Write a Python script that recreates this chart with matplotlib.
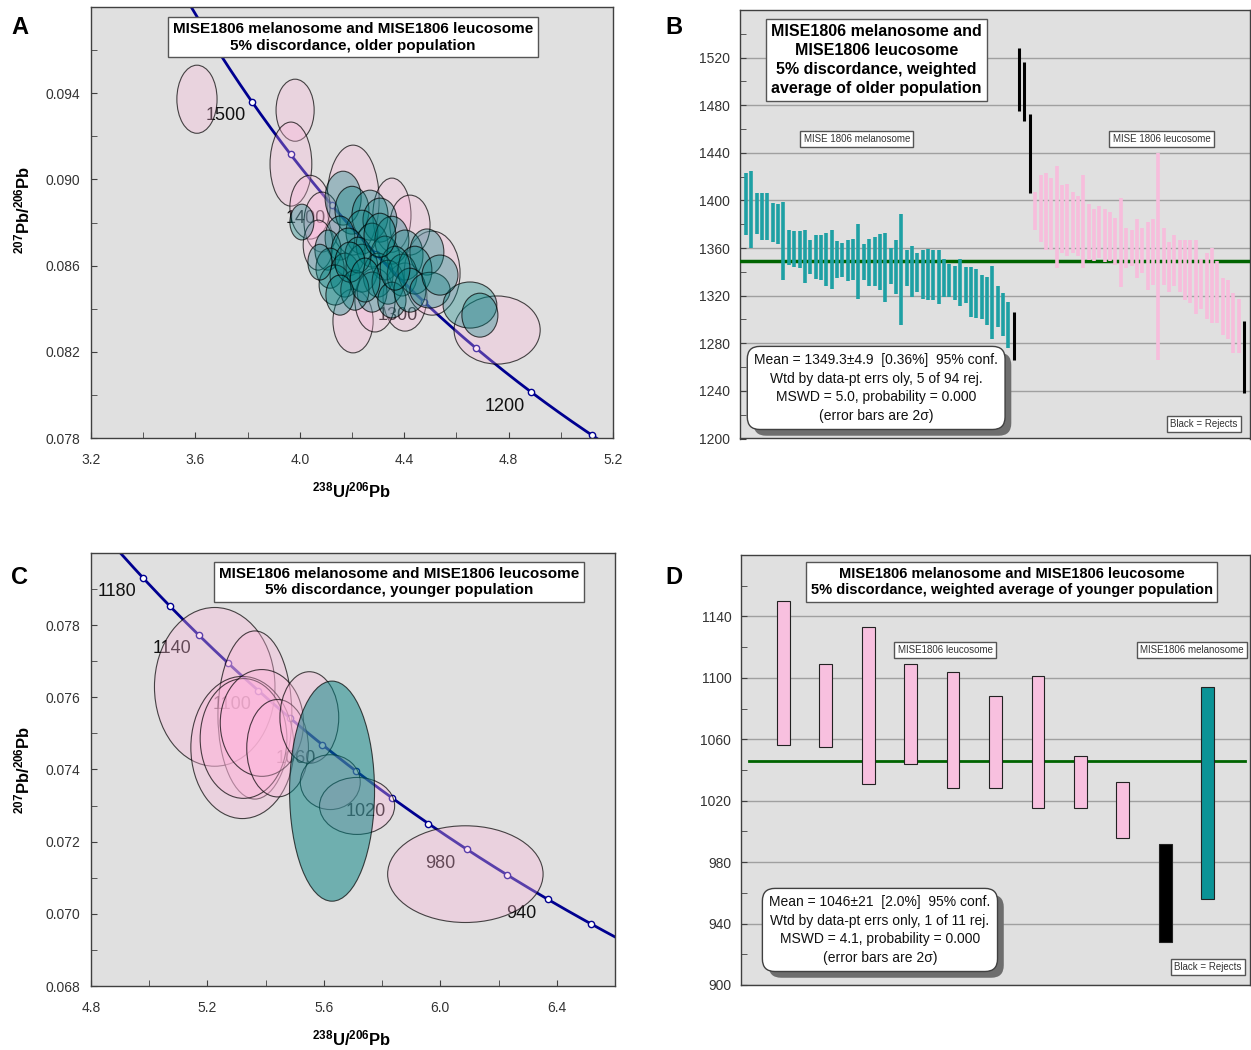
import numpy as np
import matplotlib
matplotlib.use('Agg')
import matplotlib.pyplot as plt
from matplotlib import patheffects
from matplotlib.patches import Ellipse
from matplotlib.ticker import MultipleLocator

# global plotting options
plt.rcParams['font.family'] = 'Liberation Sans'
plt.rcParams['mathtext.fontset'] = 'custom'
plt.rcParams['mathtext.rm'] = 'Liberation Sans'
plt.rcParams['mathtext.bf'] = 'Liberation Sans:bold'
plt.rcParams['mathtext.it'] = 'Liberation Sans:italic'

# decay constants (1/yr) and 238U/235U
L238 = 1.55125e-10
L235 = 9.8485e-10
U_RATIO = 137.88

# colours
BG = '#e0e0e0'
TEAL_BAR = '#1ea0a4'
PINK_BAR = '#f7bddc'
TEAL_BOX = '#0b9396'
PINK_BOX = '#f8c0df'
NAVY = '#000090'
MEAN_GREEN = '#006400'

# %% data: older population ellipses (2 sigma half-axes)
old_mel_x = [4.008, 4.166, 4.200, 4.269, 4.307, 4.238, 4.154, 4.108, 4.185,
             4.277, 4.353, 4.326, 4.403, 4.487, 4.116, 4.173, 4.135, 4.238,
             4.300, 4.277, 4.338, 4.392, 4.441, 4.353, 4.422, 4.499, 4.211,
             4.077, 4.652, 4.690, 4.537, 4.223, 4.192, 4.250, 4.365, 4.154,
             4.307]
old_mel_y = [0.08802, 0.08913, 0.08857, 0.08834, 0.08811, 0.08755, 0.08728,
             0.08672, 0.08663, 0.08695, 0.08718, 0.08635, 0.08649, 0.08663,
             0.08588, 0.08556, 0.08510, 0.08588, 0.08556, 0.08477, 0.08523,
             0.08556, 0.08579, 0.08440, 0.08486, 0.08486, 0.08486, 0.08616,
             0.08417, 0.08370, 0.08556, 0.08649, 0.08616, 0.08533, 0.08588,
             0.08463, 0.08741]
old_mel_sx = [0.046, 0.069, 0.065, 0.069, 0.065, 0.061, 0.057, 0.050, 0.065,
              0.061, 0.065, 0.057, 0.069, 0.065, 0.054, 0.057, 0.061, 0.061,
              0.057, 0.057, 0.061, 0.057, 0.065, 0.054, 0.061, 0.077, 0.054,
              0.046, 0.103, 0.069, 0.069, 0.050, 0.057, 0.057, 0.057, 0.054,
              0.061]
old_mel_sy = [0.00083, 0.00125, 0.00111, 0.00116, 0.00102, 0.00102, 0.00102,
              0.00093, 0.00111, 0.00102, 0.00111, 0.00102, 0.00116, 0.00107,
              0.00093, 0.00102, 0.00093, 0.00111, 0.00102, 0.00093, 0.00102,
              0.00097, 0.00111, 0.00083, 0.00102, 0.00083, 0.00093, 0.00083,
              0.00107, 0.00102, 0.00093, 0.00083, 0.00093, 0.00102, 0.00102,
              0.00093, 0.00102]

old_leu_x = [3.606, 3.982, 3.966, 4.204, 4.204, 4.756, 4.403, 4.353, 4.039,
             4.085, 4.507, 4.288, 4.070, 4.422]
old_leu_y = [0.09372, 0.09321, 0.09071, 0.08904, 0.08343, 0.08301, 0.08454,
             0.08834, 0.08871, 0.08802, 0.08565, 0.08440, 0.08695, 0.08788]
old_leu_sx = [0.077, 0.073, 0.080, 0.100, 0.077, 0.165, 0.084, 0.073, 0.077,
              0.069, 0.107, 0.077, 0.057, 0.077]
old_leu_sy = [0.00158, 0.00144, 0.00195, 0.00255, 0.00148, 0.00158, 0.00158,
              0.00172, 0.00148, 0.00139, 0.00195, 0.00148, 0.00116, 0.00139]

# %% data: younger population ellipses
young_leu_x = [5.225, 5.363, 5.320, 5.324, 5.387, 5.441, 5.550, 5.622, 5.714,
               6.086]
young_leu_y = [0.07629, 0.07551, 0.07461, 0.07486, 0.07529, 0.07459, 0.07544,
               0.07365, 0.07299, 0.07110]
young_leu_sx = [0.207, 0.127, 0.177, 0.149, 0.143, 0.106, 0.101, 0.103, 0.129,
                0.267]
young_leu_sy = [0.00220, 0.00233, 0.00197, 0.00166, 0.00148, 0.00135, 0.00127,
                0.00076, 0.00079, 0.00134]
young_mel_x = [5.628]
young_mel_y = [0.07340]
young_mel_sx = [0.146]
young_mel_sy = [0.00305]

# %% data: weighted average of older population (Ma, 2 sigma limits)
old_mel_hi = [1423, 1425, 1406, 1406, 1406, 1398, 1397, 1399, 1375, 1374,
              1374, 1375, 1367, 1371, 1371, 1373, 1375, 1366, 1364, 1367,
              1368, 1380, 1363, 1368, 1369, 1372, 1373, 1360, 1367, 1389,
              1358, 1362, 1356, 1358, 1359, 1358, 1358, 1351, 1347, 1345,
              1351, 1344, 1344, 1342, 1337, 1336, 1345, 1328, 1322, 1315]
old_mel_lo = [1371, 1360, 1372, 1367, 1367, 1365, 1363, 1333, 1346, 1344,
              1343, 1331, 1338, 1334, 1333, 1328, 1326, 1335, 1336, 1332,
              1333, 1317, 1333, 1328, 1328, 1325, 1315, 1330, 1321, 1295,
              1328, 1319, 1323, 1317, 1316, 1316, 1313, 1319, 1319, 1316,
              1311, 1314, 1302, 1301, 1300, 1295, 1284, 1294, 1286, 1276]
old_leu_hi = [1407, 1421, 1423, 1419, 1429, 1413, 1414, 1407, 1404, 1421,
              1397, 1393, 1395, 1393, 1390, 1385, 1402, 1377, 1375, 1384,
              1377, 1382, 1384, 1440, 1377, 1365, 1371, 1367, 1367, 1367,
              1367, 1351, 1356, 1360, 1349, 1335, 1333, 1322, 1317]
old_leu_lo = [1375, 1365, 1358, 1358, 1343, 1356, 1353, 1356, 1353, 1343,
              1350, 1349, 1352, 1348, 1349, 1346, 1327, 1343, 1345, 1335,
              1339, 1325, 1329, 1266, 1329, 1323, 1328, 1323, 1316, 1314,
              1305, 1309, 1300, 1297, 1297, 1287, 1284, 1272, 1272]
old_rej_pos = [51, 52, 53, 54, 94]
old_rej_hi = [1306, 1528, 1516, 1473, 1299]
old_rej_lo = [1266, 1475, 1467, 1406, 1238]
old_mean = 1349.3

# %% data: weighted average of younger population
young_hi = [1150, 1109, 1133, 1109, 1104, 1088, 1101, 1049, 1032, 992, 1094]
young_lo = [1056, 1055, 1031, 1044, 1028, 1028, 1015, 1015, 996, 928, 956]
young_kind = ['leu'] * 9 + ['rej', 'mel']
young_mean = 1046


def tw_concordia(t_ma):
    t = np.asarray(t_ma, dtype=float) * 1e6
    e238 = np.exp(L238 * t) - 1
    e235 = np.exp(L235 * t) - 1
    return 1 / e238, e235 / (e238 * U_RATIO)


def style_axes(ax):
    ax.set_facecolor(BG)
    for s in ax.spines.values():
        s.set_color('#404040')
        s.set_linewidth(1)
    ax.tick_params(which='both', direction='in', length=4, color='#404040',
                   labelcolor='#333333', labelsize=10)


def draw_concordia(ax, t0, t1, marks, labels):
    t = np.linspace(t0, t1, 400)
    x, y = tw_concordia(t)
    ax.plot(x, y, color=NAVY, lw=2, zorder=2)
    mx, my = tw_concordia(marks)
    ax.plot(mx, my, 'o', ms=4.5, mfc='white', mec=NAVY, mew=1, zorder=2.5)
    for age in labels:
        ax.annotate(str(age), tw_concordia(age), xytext=(-19, -10),
                    textcoords='offset points', ha='center', va='center',
                    fontsize=13, color='#111111', zorder=2)


def draw_ellipses(ax, xs, ys, sx, sy, face, alpha):
    for x, y, w, h in zip(xs, ys, sx, sy):
        ax.add_patch(Ellipse((x, y), 2 * w, 2 * h, fc=(*face, alpha),
                             ec=(0, 0, 0, 0.7), lw=0.8, zorder=3))


def title_box(ax, x, y, text, size=11, spacing=1.25):
    ax.text(x, y, text, transform=ax.transAxes, ha='center', va='center',
            fontsize=size, fontweight='bold', linespacing=spacing, zorder=8,
            bbox=dict(boxstyle='square,pad=0.32', fc='white', ec='#555555',
                      lw=1))


def small_box(ax, x, y, text):
    ax.text(x, y, text, transform=ax.transAxes, ha='center', va='center',
            fontsize=7, color='#333333', zorder=8,
            bbox=dict(boxstyle='square,pad=0.35', fc='white', ec='#555555',
                      lw=1))


def mean_box(ax, x, y, text):
    t = ax.text(x, y, text, transform=ax.transAxes, ha='center', va='center',
                fontsize=10, linespacing=1.4, color='#111111', zorder=9,
                bbox=dict(boxstyle='round,pad=0.5,rounding_size=0.9',
                          fc='white', ec='#404040', lw=1))
    # grey drop shadow under the rounded box
    t.get_bbox_patch().set_path_effects([
        patheffects.SimplePatchShadow(offset=(4.5, -4.5),
                                      shadow_rgbFace='#6e6e6e', alpha=1),
        patheffects.Normal()])


fig = plt.figure(figsize=(12.51, 10.5), dpi=100)
W, H = 1251, 1050


def px_axes(left, top, right, bottom):
    return fig.add_axes([left / W, 1 - bottom / H, (right - left) / W,
                         (bottom - top) / H])


teal_rgb = (0.0, 0.5, 0.5)
pink_rgb = (1.0, 0.71, 0.86)
ylab = r'$\mathbf{^{207}Pb/^{206}Pb}$'
xlab = r'$\mathbf{^{238}U/^{206}Pb}$'

# %% A: older population, Tera-Wasserburg
ax = px_axes(91, 7, 613, 438)
style_axes(ax)
draw_concordia(ax, 1100, 1650, np.arange(1150, 1651, 50),
               [1500, 1400, 1300, 1200])
draw_ellipses(ax, old_leu_x, old_leu_y, old_leu_sx, old_leu_sy, pink_rgb,
              0.3)
draw_ellipses(ax, old_mel_x, old_mel_y, old_mel_sx, old_mel_sy, teal_rgb,
              0.33)
ax.set_xlim(3.2, 5.2)
ax.set_ylim(0.078, 0.098)
ax.xaxis.set_major_locator(MultipleLocator(0.4))
ax.xaxis.set_minor_locator(MultipleLocator(0.2))
ax.yaxis.set_minor_locator(MultipleLocator(0.002))
ax.set_yticks(np.arange(0.078, 0.0941, 0.004))
ax.yaxis.set_major_formatter(plt.FormatStrFormatter('%.3f'))
ax.xaxis.set_major_formatter(plt.FormatStrFormatter('%.1f'))
ax.tick_params(axis='y', pad=8)
ax.tick_params(axis='x', pad=11)
title_box(ax, 0.502, 0.930,
          'MISE1806 melanosome and MISE1806 leucosome\n'
          '5% discordance, older population')
fig.text(22 / W, 1 - 210 / H, ylab, rotation=90, ha='center', va='center',
         fontsize=12)
fig.text(352 / W, 1 - 490 / H, xlab, ha='center', va='center', fontsize=12)

# %% B: weighted average of older population
ax = px_axes(740, 10, 1250, 438.5)
style_axes(ax)
n_mel, n_leu = len(old_mel_hi), len(old_leu_hi)
pos_mel = np.arange(1, n_mel + 1)
pos_leu = np.arange(n_mel + 5, n_mel + 5 + n_leu)
ax.axhline(old_mean, color=MEAN_GREEN, lw=2.5, zorder=3)
ax.vlines(pos_mel, old_mel_lo, old_mel_hi, color=TEAL_BAR, lw=2.6, zorder=4)
ax.vlines(pos_leu, old_leu_lo, old_leu_hi, color=PINK_BAR, lw=2.6, zorder=4)
ax.vlines(old_rej_pos, old_rej_lo, old_rej_hi, color='black', lw=2.2,
          zorder=4)
ax.set_xlim(-0.12, 95.12)
ax.set_ylim(1200, 1560)
ax.set_yticks(np.arange(1200, 1521, 40))
ax.yaxis.set_minor_locator(MultipleLocator(20))
ax.set_xticks([])
ax.tick_params(axis='y', pad=7)
ax.grid(axis='y', which='major', color='#a0a0a0', lw=1, zorder=1)
ax.set_axisbelow(True)
title_box(ax, 0.267, 0.883,
          'MISE1806 melanosome and\nMISE1806 leucosome\n'
          '5% discordance, weighted\naverage of older population',
          size=11.5, spacing=1.33)
small_box(ax, 0.229, 0.699, 'MISE 1806 melanosome')
small_box(ax, 0.827, 0.699, 'MISE 1806 leucosome')
small_box(ax, 0.910, 0.034, 'Black = Rejects')
mean_box(ax, 0.267, 0.118,
         'Mean = 1349.3\u00b14.9  [0.36%]  95% conf.\n'
         'Wtd by data-pt errs oly, 5 of 94 rej.\n'
         'MSWD = 5.0, probability = 0.000\n'
         '(error bars are 2\u03c3)')

# %% C: younger population, Tera-Wasserburg
ax = px_axes(91, 553, 615, 986)
style_axes(ax)
draw_concordia(ax, 880, 1220, np.arange(900, 1221, 20),
               [1180, 1140, 1100, 1060, 1020, 980, 940])
draw_ellipses(ax, young_leu_x, young_leu_y, young_leu_sx, young_leu_sy,
              pink_rgb, 0.35)
draw_ellipses(ax, young_mel_x, young_mel_y, young_mel_sx, young_mel_sy,
              teal_rgb, 0.5)
ax.set_xlim(4.8, 6.6)
ax.set_ylim(0.068, 0.080)
ax.set_xticks(np.arange(4.8, 6.41, 0.4))
ax.xaxis.set_minor_locator(MultipleLocator(0.2))
ax.set_yticks(np.arange(0.068, 0.0781, 0.002))
ax.yaxis.set_minor_locator(MultipleLocator(0.001))
ax.yaxis.set_major_formatter(plt.FormatStrFormatter('%.3f'))
ax.xaxis.set_major_formatter(plt.FormatStrFormatter('%.1f'))
ax.tick_params(axis='y', pad=8)
ax.tick_params(axis='x', pad=11)
title_box(ax, 0.588, 0.933,
          'MISE1806 melanosome and MISE1806 leucosome\n'
          '5% discordance, younger population')
fig.text(22 / W, 1 - 770 / H, ylab, rotation=90, ha='center', va='center',
         fontsize=12)
fig.text(352 / W, 1 - 1038 / H, xlab, ha='center', va='center', fontsize=12)

# %% D: weighted average of younger population
ax = px_axes(741, 555, 1250, 985)
style_axes(ax)
pos = np.arange(1, len(young_hi) + 1)
colors = {'leu': PINK_BOX, 'mel': TEAL_BOX, 'rej': 'black'}
ax.axhline(young_mean, xmin=0.016, xmax=0.99, color=MEAN_GREEN, lw=2,
           zorder=3)
ax.bar(pos, np.subtract(young_hi, young_lo), bottom=young_lo, width=0.3,
       color=[colors[k] for k in young_kind], edgecolor='#222222', lw=0.8,
       zorder=4)
ax.set_xlim(0, 12)
ax.set_ylim(900, 1180)
ax.set_yticks(np.arange(900, 1141, 40))
ax.yaxis.set_minor_locator(MultipleLocator(20))
ax.set_xticks([])
ax.tick_params(axis='y', pad=7)
ax.grid(axis='y', which='major', color='#a0a0a0', lw=1, zorder=1)
ax.set_axisbelow(True)
title_box(ax, 0.532, 0.937,
          'MISE1806 melanosome and MISE1806 leucosome\n'
          '5% discordance, weighted average of younger population',
          size=10.5)
small_box(ax, 0.401, 0.779, 'MISE1806 leucosome')
small_box(ax, 0.886, 0.779, 'MISE1806 melanosome')
small_box(ax, 0.917, 0.042, 'Black = Rejects')
mean_box(ax, 0.273, 0.128,
         'Mean = 1046\u00b121  [2.0%]  95% conf.\n'
         'Wtd by data-pt errs only, 1 of 11 rej.\n'
         'MSWD = 4.1, probability = 0.000\n'
         '(error bars are 2\u03c3)')

# panel letters
for letter, (lx, ly) in zip('ABCD', [(20, 27), (674, 27), (20, 577),
                                     (674, 577)]):
    fig.text(lx / W, 1 - ly / H, letter, ha='center', va='center',
             fontsize=17, fontweight='bold')

fig.savefig('out.png', dpi=100)
